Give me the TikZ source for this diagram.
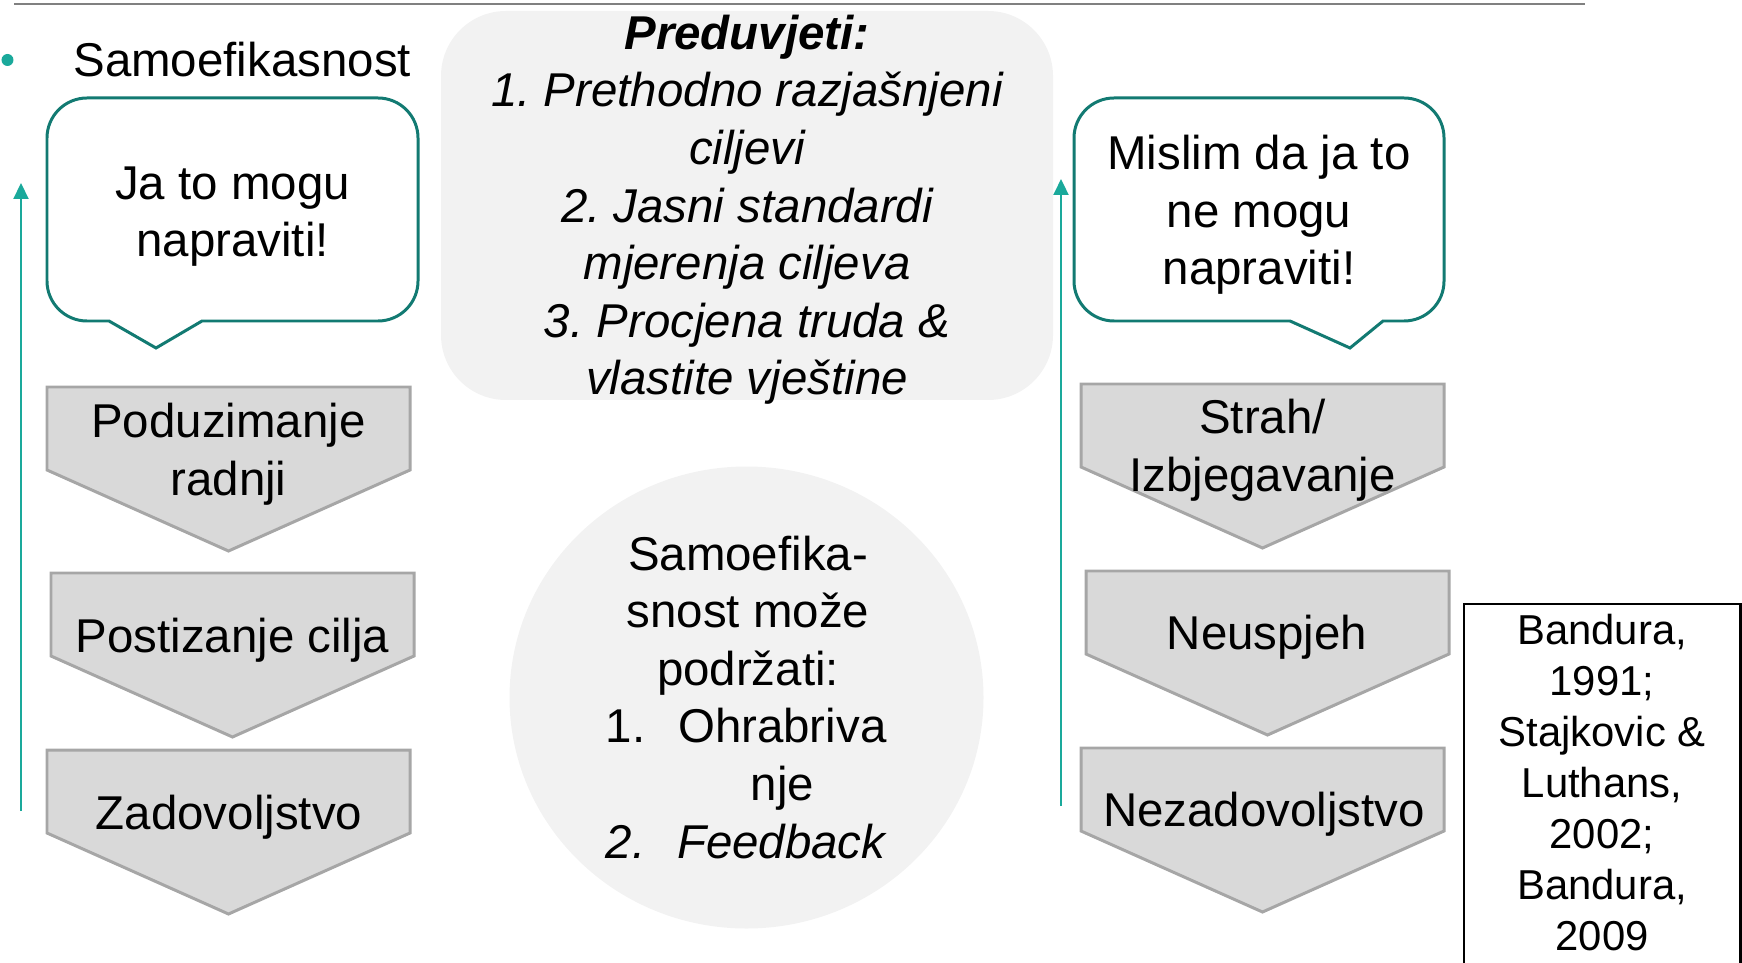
\documentclass[tikz,border=0pt]{standalone}
\usepackage{fontspec}
\setmainfont{Liberation Sans}
\usetikzlibrary{arrows.meta}
\definecolor{tirkiz}{HTML}{127A72}
\definecolor{tirkizsvijetli}{HTML}{1AA99B}
\definecolor{sivaispuna}{HTML}{D9D9D9}
\definecolor{sivirub}{HTML}{A6A6A6}
\definecolor{svijetlosiva}{HTML}{F2F2F2}
\frenchspacing

\begin{document}
\begin{tikzpicture}[
  chev/.style={draw=sivirub, fill=sivaispuna, line width=0.85pt},
  oblacic/.style={draw=tirkiz, line width=0.85pt, fill=white},
  tekst/.style={font=\fontsize{13.5}{16.4}\selectfont, align=center, inner sep=0pt, anchor=base},
  uzlaz/.style={draw=tirkizsvijetli, line width=0.6pt, -{Triangle[width=0.15cm,length=0.16cm]}}
]
  \useasboundingbox (0,0) rectangle (17.42,-9.62);
  \clip (0,0) rectangle (17.42,-9.62);

  % Heading
  \draw[gray, line width=0.75pt] (0.14,-0.04) -- (15.85,-0.04);
  \node[circle, fill=tirkizsvijetli, inner sep=0pt, minimum size=0.12cm] (tocka) at (0.075,-0.60) {};
  \node[tekst, anchor=base west] (naslov) at (0.727,-0.77) {Samoefikasnost};

  % Preconditions (multi-line nodes sit on their last baseline)
  \fill[svijetlosiva, rounded corners=0.65cm] (4.41,-0.11) rectangle (10.53,-4.00);
  \node[tekst, font=\fontsize{13.5}{16.4}\selectfont\itshape] (preduvjeti) at (7.47,-3.95)
    {\textbf{Preduvjeti:}\\1. Prethodno razjašnjeni\\ciljevi\\2. Jasni standardi\\mjerenja ciljeva\\3. Procjena truda \&\\vlastite vještine};

  % Support
  \fill[svijetlosiva] (7.465,-6.975) ellipse [x radius=2.37, y radius=2.31];
  \node[tekst] (podrska) at (7.48,-5.70) {\begin{tabular}[t]{@{}l@{\hspace{0.29cm}}c@{}}
      \multicolumn{2}{c}{Samoefika-}\\
      \multicolumn{2}{c}{snost može}\\
      \multicolumn{2}{c}{podržati:}\\
      1. & Ohrabriva\\
         & nje\\
      \textit{2.} & \textit{Feedback}
    \end{tabular}};

  % Left column
  \draw[oblacic] (2.02,-3.21) -- (3.78,-3.21) arc[start angle=270, end angle=360, radius=0.4]
    -- (4.18,-1.38) arc[start angle=0, end angle=90, radius=0.4]
    -- (0.87,-0.98) arc[start angle=90, end angle=180, radius=0.4]
    -- (0.47,-2.81) arc[start angle=180, end angle=270, radius=0.4]
    -- (1.09,-3.21) -- (1.56,-3.48) -- cycle;
  \node[tekst] (mogu) at (2.325,-2.57) {Ja to mogu\\napraviti!};

  % Right column
  \draw[oblacic] (13.83,-3.21) -- (14.04,-3.21) arc[start angle=270, end angle=360, radius=0.4]
    -- (14.44,-1.38) arc[start angle=0, end angle=90, radius=0.4]
    -- (11.14,-0.98) arc[start angle=90, end angle=180, radius=0.4]
    -- (10.74,-2.81) arc[start angle=180, end angle=270, radius=0.4]
    -- (12.90,-3.21) -- (13.50,-3.48) -- cycle;
  \node[tekst] (nemogu) at (12.59,-2.85) {Mislim da ja to\\ne mogu\\napraviti!};

  % Chevrons
  \foreach \x/\y in {0.47/3.87, 0.51/5.73, 0.47/7.50, 10.81/3.84, 10.86/5.71, 10.81/7.48}
    \draw[chev] (\x,-\y) -- ++(3.63,0) -- ++(0,-0.83) -- ++(-1.815,-0.81) -- ++(-1.815,0.81) -- cycle;

  \node[tekst] (akcija) at (2.285,-4.95) {Poduzimanje\\radnji};
  \node[tekst] (cilj) at (2.325,-6.52) {Postizanje cilja};
  \node[tekst] (zadovoljstvo) at (2.29,-8.29) {Zadovoljstvo};
  \node[tekst] (strah) at (12.625,-4.91) {Strah/\\Izbjegavanje};
  \node[tekst] (neuspjeh) at (12.67,-6.49) {Neuspjeh};
  \node[tekst] (nezadovoljstvo) at (12.64,-8.26) {Nezadovoljstvo};

  % Upward arrows
  \coordinate (lijevoDno) at (0.21,-8.11);
  \coordinate (lijevoVrh) at (0.21,-1.83);
  \coordinate (desnoDno) at (10.61,-8.06);
  \coordinate (desnoVrh) at (10.61,-1.79);
  \draw[uzlaz] (lijevoDno) -- (lijevoVrh);
  \draw[uzlaz] (desnoDno) -- (desnoVrh);

  % References
  \draw[line width=0.7pt] (14.64,-6.04) rectangle (17.405,-9.80);
  \node[tekst, font=\fontsize{11.9}{14.5}\selectfont] (izvori) at (16.02,-9.50)
    {Bandura,\\1991;\\Stajkovic \&\\Luthans,\\2002;\\Bandura,\\2009};
\end{tikzpicture}
\end{document}
